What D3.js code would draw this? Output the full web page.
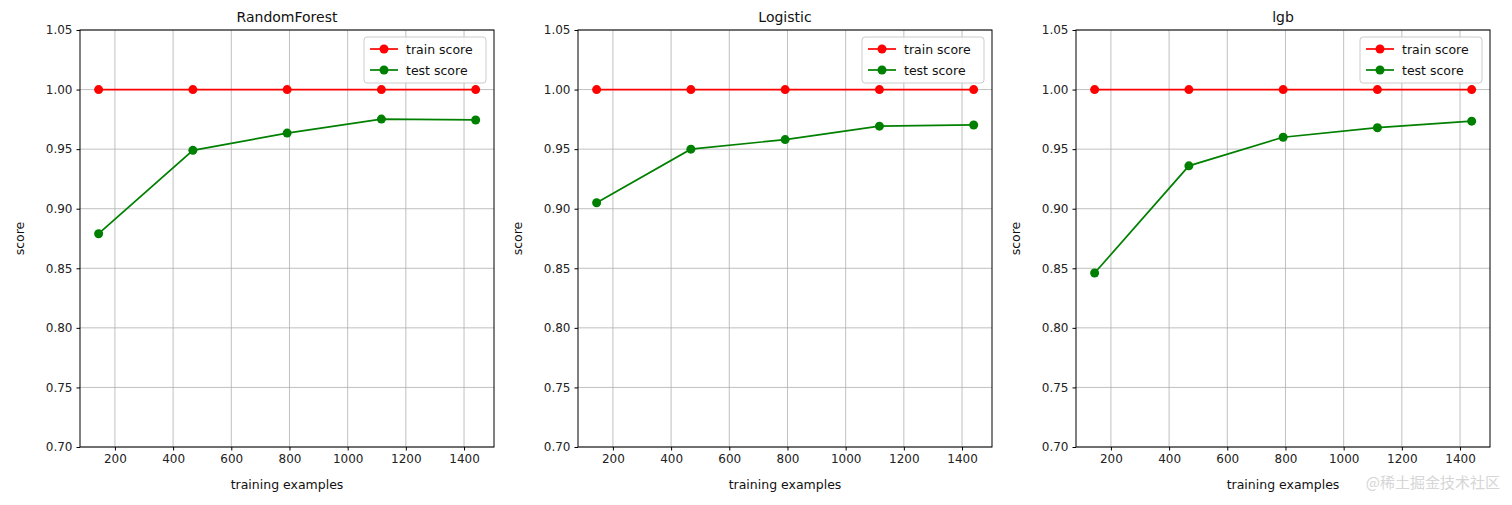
<!DOCTYPE html>
<html><head><meta charset="utf-8">
<script src="https://cdn.jsdelivr.net/npm/d3@7"></script>
<style>body{margin:0;background:#fff;font-family:"DejaVu Sans",sans-serif;}</style>
</head><body>
<script>
// data
const titles = ["RandomForest", "Logistic", "lgb"];
const trainSizes = [144, 468, 792, 1116, 1440];
const trainScores = [
  [1.0, 1.0, 1.0, 1.0, 1.0],
  [1.0, 1.0, 1.0, 1.0, 1.0],
  [1.0, 1.0, 1.0, 1.0, 1.0]
];
const testScores = [
  [0.879, 0.949, 0.9635, 0.9752, 0.9745],
  [0.905, 0.950, 0.958, 0.9693, 0.9703],
  [0.846, 0.936, 0.960, 0.968, 0.9735]
];
const yTicks = [0.70, 0.75, 0.80, 0.85, 0.90, 0.95, 1.00, 1.05];
const xTicks = [200, 400, 600, 800, 1000, 1200, 1400];

const W = 1512, H = 505;
const svg = d3.select("body").append("svg").attr("width", W).attr("height", H);
const lefts = [80, 578, 1076];
const pw = 414, plotTop = 30, plotBottom = 447;

titles.forEach((t, i) => {
  const g = svg.append("g").attr("transform", `translate(${lefts[i]},0)`);
  const x = d3.scaleLinear().domain([80, 1503]).range([0, pw]);
  const y = d3.scaleLinear().domain([0.70, 1.05]).range([plotBottom, plotTop]);

  // grid
  g.selectAll(".gx").data(xTicks).join("line")
    .attr("x1", d => x(d)).attr("x2", d => x(d)).attr("y1", plotTop).attr("y2", plotBottom)
    .attr("stroke", "#b0b0b0").attr("stroke-width", 0.8);
  g.selectAll(".gy").data(yTicks).join("line")
    .attr("x1", 0).attr("x2", pw).attr("y1", d => y(d)).attr("y2", d => y(d))
    .attr("stroke", "#b0b0b0").attr("stroke-width", 0.8);

  const xa = g.append("g").attr("transform", `translate(0,${plotBottom})`)
    .call(d3.axisBottom(x).tickValues(xTicks).tickFormat(d3.format("d")).tickSize(3.5).tickPadding(4));
  const ya = g.append("g")
    .call(d3.axisLeft(y).tickValues(yTicks).tickFormat(d3.format(".2f")).tickSize(3.5).tickPadding(4));
  [xa, ya].forEach(a => {
    a.select(".domain").remove();
    a.selectAll("text").attr("font-size", 12).attr("fill", "#222").attr("font-family", "DejaVu Sans");
  });
  g.append("rect").attr("x", 0).attr("y", plotTop).attr("width", pw).attr("height", plotBottom - plotTop)
    .attr("fill", "none").attr("stroke", "#000").attr("stroke-width", 1);

  const line = d3.line().x((d, j) => x(trainSizes[j])).y(d => y(d));
  [[trainScores[i], "#ff0000"], [testScores[i], "#008000"]].forEach(([s, c]) => {
    g.append("path").attr("d", line(s)).attr("fill", "none").attr("stroke", c).attr("stroke-width", 1.7);
    g.selectAll(null).data(s).join("circle")
      .attr("cx", (d, j) => x(trainSizes[j])).attr("cy", d => y(d)).attr("r", 4.5).attr("fill", c);
  });

  g.append("text").attr("x", pw / 2).attr("y", plotTop - 8).attr("text-anchor", "middle")
    .attr("font-size", 14).attr("fill", "#111").text(t);
  g.append("text").attr("x", pw / 2).attr("y", 489).attr("text-anchor", "middle")
    .attr("font-size", 12.5).attr("fill", "#111").text("training examples");
  g.append("text").attr("transform", `translate(-56,${(plotTop + plotBottom) / 2}) rotate(-90)`)
    .attr("text-anchor", "middle").attr("font-size", 12.5).attr("fill", "#111").text("score");

  // legend
  const lg = g.append("g").attr("transform", `translate(${pw - 130},7)`);
  lg.append("rect").attr("x", 0).attr("y", plotTop).attr("width", 122).attr("height", 46).attr("rx", 3)
    .attr("fill", "#fff").attr("fill-opacity", 0.85).attr("stroke", "#ccc");
  [["train score", "#ff0000"], ["test score", "#008000"]].forEach(([lab, c], k) => {
    const yy = plotTop + 12 + k * 21;
    lg.append("line").attr("x1", 6).attr("x2", 34).attr("y1", yy).attr("y2", yy).attr("stroke", c).attr("stroke-width", 1.7);
    lg.append("circle").attr("cx", 20).attr("cy", yy).attr("r", 4.5).attr("fill", c);
    lg.append("text").attr("x", 42).attr("y", yy + 4.5).attr("font-size", 12.5).attr("fill", "#111").text(lab);
  });
});

svg.append("text").attr("x", 1500).attr("y", 488).attr("text-anchor", "end")
  .attr("font-family", "Noto Sans CJK SC").attr("font-size", 15).attr("fill", "#ccc").attr("opacity", 0.8)
  .text("@稀土掘金技术社区");
</script>
</body></html>
